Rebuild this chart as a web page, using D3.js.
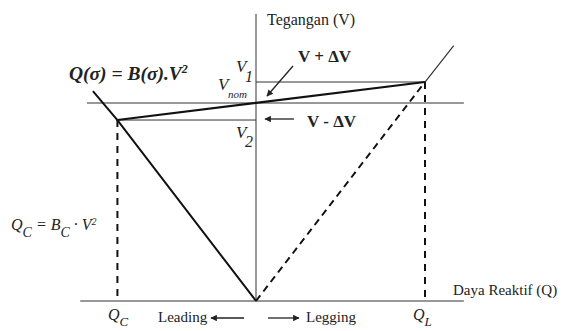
<!DOCTYPE html>
<html>
<head>
<meta charset="utf-8">
<script src="https://cdn.jsdelivr.net/npm/d3@7"></script>
<style>
  body { margin: 0; background: #fff; }
</style>
</head>
<body>
<div id="chart"></div>
<script>
// data (Q in p.u. of Q_L, V in p.u. of V_nom)
var qRange = [-1.04, 1.23];
var vRange = [0, 1.45];
var qC = -0.82, qL = 1.0;
var vNom = 1.0, v1 = 1.106, v2 = 0.914;
var capLine = [[0, 0], [qC, v2], [-0.965, 1.06]];
var indDash = [[0, 0], [qL, v1]];
var indSolid = [[qL, v1], [1.17, 1.29]];
var loadLine = [[qC, v2], [qL, v1]];

var width = 562, height = 331;
var serif = "'Liberation Serif', 'Times New Roman', 'DejaVu Serif', serif";
var svg = d3.select("#chart").append("svg")
    .attr("width", width).attr("height", height);

var x = d3.scaleLinear().domain([-1, 1]).range([256 - 169, 256 + 169]);
var y = d3.scaleLinear().domain([0, 1]).range([301, 103]);

var defs = svg.append("defs");
defs.append("marker")
    .attr("id", "arr")
    .attr("viewBox", "0 0 10 10")
    .attr("refX", 9).attr("refY", 5)
    .attr("markerWidth", 7).attr("markerHeight", 5)
    .attr("orient", "auto")
    .append("path").attr("d", "M0,0L10,5L0,10z").attr("fill", "#222");

var line = d3.line().x(d => x(d[0])).y(d => y(d[1]));

// axes
svg.append("line")
    .attr("x1", x(0)).attr("x2", x(0))
    .attr("y1", y(vRange[1])).attr("y2", y(0))
    .attr("stroke", "#333").attr("stroke-width", 1);
svg.append("line")
    .attr("x1", x(qRange[0])).attr("x2", x(qRange[1]))
    .attr("y1", y(0)).attr("y2", y(0))
    .attr("stroke", "#333").attr("stroke-width", 1.2);

// voltage levels
svg.append("line")
    .attr("x1", x(-1.0)).attr("x2", x(qRange[1]))
    .attr("y1", y(vNom)).attr("y2", y(vNom))
    .attr("stroke", "#333").attr("stroke-width", 1);
svg.append("line")
    .attr("x1", x(0)).attr("x2", x(qL))
    .attr("y1", y(v1)).attr("y2", y(v1))
    .attr("stroke", "#333").attr("stroke-width", 1);
svg.append("line")
    .attr("x1", x(qC)).attr("x2", x(0))
    .attr("y1", y(v2)).attr("y2", y(v2))
    .attr("stroke", "#333").attr("stroke-width", 1);

// vertical dashed at Qc and QL
[[qC, v2], [qL, v1]].forEach(function(p) {
  svg.append("line")
      .attr("x1", x(p[0])).attr("x2", x(p[0]))
      .attr("y1", y(p[1])).attr("y2", y(0))
      .attr("stroke", "#111").attr("stroke-width", 2)
      .attr("stroke-dasharray", "7,6");
});

// characteristic lines
svg.append("path").datum(capLine)
    .attr("d", line).attr("fill", "none")
    .attr("stroke", "#111").attr("stroke-width", 2);
svg.append("path").datum(indDash)
    .attr("d", line).attr("fill", "none")
    .attr("stroke", "#111").attr("stroke-width", 2)
    .attr("stroke-dasharray", "7,5");
svg.append("path").datum(indSolid)
    .attr("d", line).attr("fill", "none")
    .attr("stroke", "#333").attr("stroke-width", 1.2);
svg.append("path").datum(loadLine)
    .attr("d", line).attr("fill", "none")
    .attr("stroke", "#111").attr("stroke-width", 2.2);

// arrows
svg.append("line")
    .attr("x1", 293).attr("y1", 66).attr("x2", 267).attr("y2", 96)
    .attr("stroke", "#222").attr("stroke-width", 1.3)
    .attr("marker-end", "url(#arr)");
svg.append("line")
    .attr("x1", 294).attr("y1", 119).attr("x2", 265).attr("y2", 119)
    .attr("stroke", "#222").attr("stroke-width", 1.3)
    .attr("marker-end", "url(#arr)");
svg.append("line")
    .attr("x1", 244).attr("y1", 318).attr("x2", 211).attr("y2", 318)
    .attr("stroke", "#222").attr("stroke-width", 1.3)
    .attr("marker-end", "url(#arr)");
svg.append("line")
    .attr("x1", 268).attr("y1", 318).attr("x2", 299).attr("y2", 318)
    .attr("stroke", "#222").attr("stroke-width", 1.3)
    .attr("marker-end", "url(#arr)");

// labels
function txt(xp, yp, s, size, opts) {
  opts = opts || {};
  return svg.append("text")
      .attr("x", xp).attr("y", yp)
      .attr("font-family", serif)
      .attr("font-size", size)
      .attr("fill", "#222")
      .attr("font-style", opts.italic ? "italic" : "normal")
      .attr("font-weight", opts.bold ? "bold" : "normal")
      .attr("text-anchor", opts.anchor || "start")
      .text(s);
}

txt(267, 25, "Tegangan (V)", 16);
txt(453, 295, "Daya Reaktif (Q)", 15);

var f = txt(69, 80, "", 19.5, {italic: true, bold: true});
f.append("tspan").text("Q(σ) = B(σ).V");
f.append("tspan").attr("dy", -7).attr("font-size", 12).text("2");

txt(236, 72, "V", 17, {italic: true});
txt(245, 82, "1", 16, {italic: true});
txt(218, 90, "V", 17, {italic: true});
txt(228, 98, "nom", 11, {italic: true});
txt(236, 138, "V", 17, {italic: true});
txt(245, 147, "2", 16, {italic: true});

txt(298, 62, "V + ΔV", 17, {bold: true});
txt(307, 127, "V - ΔV", 17, {bold: true});

var qf = txt(11, 230, "", 16, {italic: true});
qf.append("tspan").text("Q");
qf.append("tspan").attr("dy", 7).attr("font-size", 14).text("C");
qf.append("tspan").attr("dy", -7).text(" = B");
qf.append("tspan").attr("dy", 7).attr("font-size", 14).text("C");
qf.append("tspan").attr("dy", -7).text(" · V");
qf.append("tspan").attr("dy", -5).attr("font-size", 10).text("2");

var qcl = txt(108, 320, "", 16, {italic: true});
qcl.append("tspan").text("Q");
qcl.append("tspan").attr("dy", 6).attr("font-size", 13).text("C");

var qll = txt(413, 320, "", 16, {italic: true});
qll.append("tspan").text("Q");
qll.append("tspan").attr("dy", 6).attr("font-size", 13).text("L");

txt(158, 322, "Leading", 15);
txt(306, 322, "Legging", 15);
</script>
</body>
</html>
